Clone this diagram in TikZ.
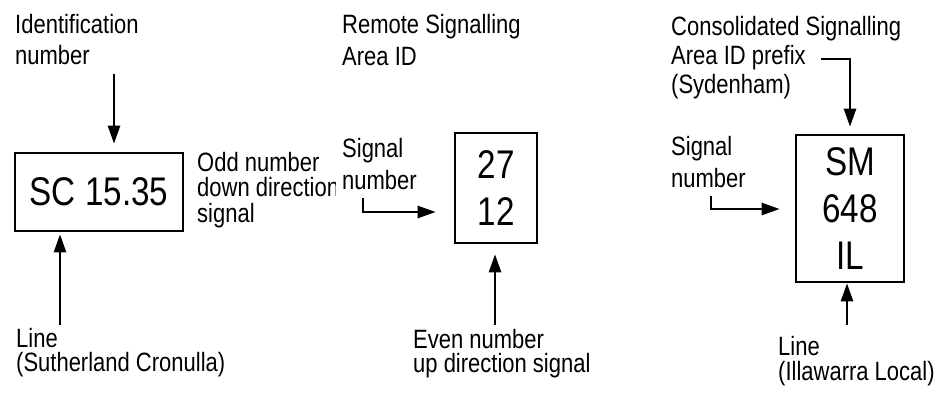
\documentclass[tikz,border=0pt]{standalone}
\usepackage{fontspec}
\setmainfont{Liberation Sans}[FakeStretch=0.83]
\usetikzlibrary{arrows.meta}
\tikzset{
  lbl/.style={inner sep=0pt, anchor=base west, align=left},
  sml/.style={font=\fontsize{26.5}{#1}\selectfont},
  bx/.style={draw, line width=2.6pt, inner sep=0pt, align=center, font=\fontsize{40}{47}\selectfont},
  arr/.style={line width=2.6pt, -{Triangle[length=18pt,width=12pt]}},
}
\begin{document}
\begin{tikzpicture}[x=1pt,y=-1pt]
\useasboundingbox (0,0) rectangle (947,394);
% boxes
\node[bx, minimum width=168pt, minimum height=78pt] (b1) at (99,192) {SC 15.35};
\node[bx, minimum width=82pt, minimum height=110pt] (b2) at (496,188) {27\\12};
\node[bx, minimum width=108pt, minimum height=147pt] (b3) at (850,208.5) {SM\\648\\IL};
% labels (anchored at the baseline of their last line)
\node[lbl, sml=31] (idn) at (15,64) {Identification\\number};
\begin{scope}
\clip (190,140) rectangle (335,240);
\node[lbl, sml=25.5] (odd) at (197,222) {Odd number\\down direction\\signal};
\end{scope}
\node[lbl, sml=24] (ln1) at (16,371) {Line\\(Sutherland Cronulla)};
\node[lbl, sml=32] (rsa) at (342,65) {Remote Signalling\\Area ID};
\node[lbl, sml=32] (sn2) at (342,189) {Signal\\number};
\node[lbl, sml=24] (even) at (413,372) {Even number\\up direction signal};
\node[lbl, sml=29] (csa) at (671,93) {Consolidated Signalling\\Area ID prefix\\(Sydenham)};
\node[lbl, sml=32] (sn3) at (671,187) {Signal\\number};
\node[lbl, sml=25] (ln3) at (778,380) {Line\\(Illawarra Local)};
% connector end points
\coordinate (t1) at (114,74);
\coordinate (t2) at (60,325);
\coordinate (t3) at (363,198);
\coordinate (t4) at (495,325);
\coordinate (t5) at (821,59);
\coordinate (t6) at (711,196);
\coordinate (t7) at (847,325);
% arrows
\draw[arr, shorten >=8pt] (t1) -- (t1 |- b1.north);
\draw[arr, shorten >=2pt] (t2) -- (t2 |- b1.south);
\draw[arr, shorten >=18pt] (t3) |- (b2.west |- 0,212);
\draw[arr, shorten >=10pt] (t4) -- (t4 |- b2.south);
\draw[arr, shorten >=7pt] (t5) -| (b3.north);
\draw[arr, shorten >=15pt] (t6) |- (b3.west |- 0,209);
\draw[arr] (t7) -- (t7 |- b3.south);
\end{tikzpicture}
\end{document}
